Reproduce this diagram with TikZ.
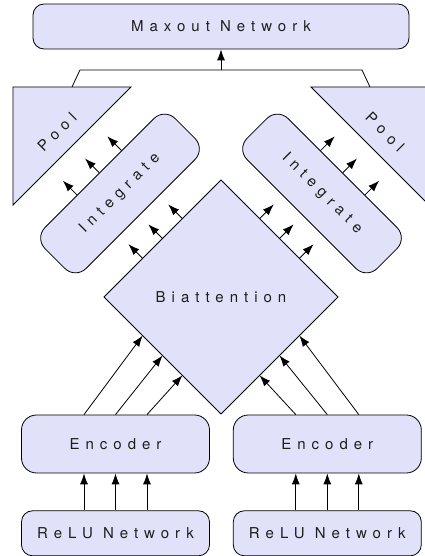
\documentclass[tikz,border=0pt]{standalone}
\usepackage{fontspec}
\setmainfont{TeX Gyre Heros}[LetterSpace=40]
\usetikzlibrary{arrows.meta}
\usetikzlibrary{calc}
\usetikzlibrary{positioning}
\usetikzlibrary{shapes.geometric}
\definecolor{boxfill}{RGB}{225,226,250}
\definecolor{ink}{RGB}{30,30,30}

\tikzset{
  txt/.style={text=ink, font=\fontsize{15}{18}\selectfont},
  block/.style={txt, draw, fill=boxfill, rounded corners=11pt, inner sep=0pt, minimum height=45pt},
  tall/.style={block, rounded corners=15pt, minimum height=58pt},
  arr/.style={-{Latex[length=11pt,width=8pt]}},
}

\begin{document}
\begin{tikzpicture}[x=1pt, y=1pt, line width=0.8pt]
  \useasboundingbox (0,0) rectangle (425,556);
  \clip (0,0) rectangle (425,556);

  % output
  \node [block, minimum width=376pt] (maxout) at (221,529.5) {Maxout Network};

  % pooling
  \draw [fill=boxfill] (13,469) -- (131,469) -- (13,351) -- cycle;
  \draw [fill=boxfill] (429,469) -- (311,469) -- (429,351) -- cycle;
  \node [txt, rotate=45] (poolLtext) at (57,424) {Pool};
  \node [txt, rotate=-45] (poolRtext) at (385,424) {Pool};
  \coordinate (poolL) at (72,469);
  \coordinate (poolR) at (370,469);
  \coordinate (bendL) at (80,486);
  \coordinate (bendR) at (362,486);
  \coordinate (join) at (221,486);
  \draw (poolL) -- (bendL) -- (bendR) -- (poolR);
  \draw [arr] (join) -- (maxout);

  % integrate
  \node [tall, minimum width=184pt, rotate=45] (intL) at (120,362.5) {Integrate};
  \node [tall, minimum width=184pt, rotate=-45] (intR) at (322,362.5) {Integrate};
  \foreach \t in {-1,0,1} {
    \draw [arr] ($(intL.north)!\t*0.34!(intL.north east)$) -- ++(135:20);
    \draw [arr] ($(intR.north)!\t*0.34!(intR.north east)$) -- ++(45:20);
  }

  % biattention
  \node [txt, draw, fill=boxfill, diamond, minimum width=234pt, minimum height=234pt,
         inner sep=0pt, outer sep=0pt] (biatt) at (221,259) {Biattention};
  \foreach \f in {0.33,0.5,0.67} {
    \draw [arr] ($(biatt.west)!\f!(biatt.north)$) -- ++(135:20);
    \draw [arr] ($(biatt.north)!\f!(biatt.east)$) -- ++(45:20);
  }

  % encoders
  \node [tall, minimum width=188pt] (encL) at (115.5,112) {Encoder};
  \node [tall, minimum width=188pt, right=23pt of encL] (encR) {Encoder};
  \node [block, minimum width=188pt, below=37pt of encL] (reluL) {ReLU Network};
  \node [block, minimum width=188pt, below=37pt of encR] (reluR) {ReLU Network};
  \foreach \d/\f in {-31.5/0.33, 0/0.5, 31.5/0.67} {
    \draw [arr] ([xshift=\d pt]encL.north) -- ($(biatt.west)!\f!(biatt.south)$);
    \draw [arr] ([xshift=\d pt]encR.north) -- ($(biatt.south)!\f!(biatt.east)$);
    \draw [arr] ([xshift=\d pt]reluL.north) -- ([xshift=\d pt]encL.south);
    \draw [arr] ([xshift=\d pt]reluR.north) -- ([xshift=\d pt]encR.south);
  }
\end{tikzpicture}
\end{document}
